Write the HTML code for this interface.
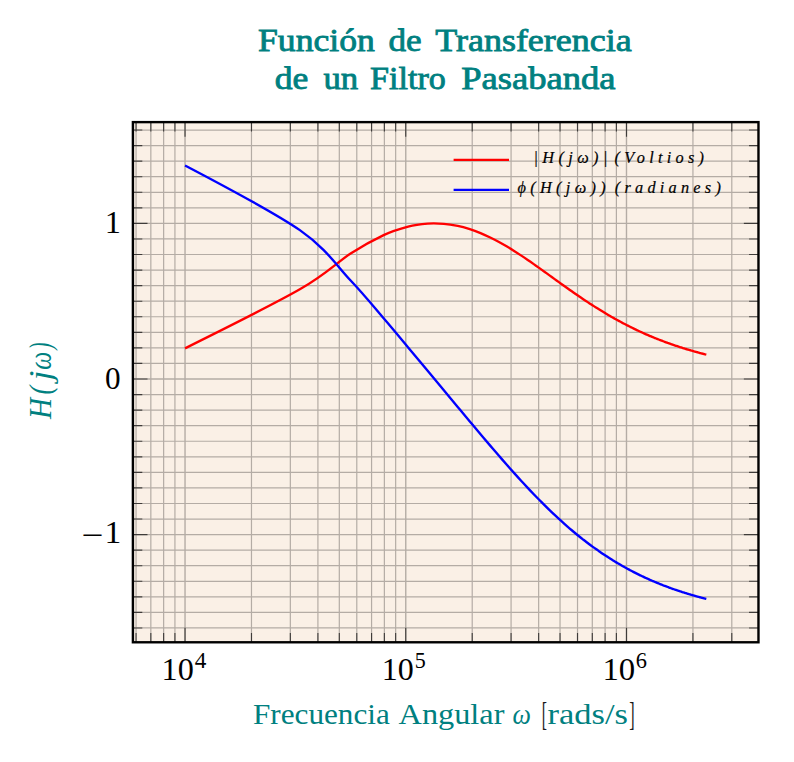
<!DOCTYPE html>
<html><head><meta charset="utf-8"><title>Función de Transferencia de un Filtro Pasabanda</title>
<style>html,body{margin:0;padding:0;background:#fff;}svg{display:block;}
text{font-family:"Liberation Serif",serif;}</style></head>
<body><svg width="794" height="762" viewBox="0 0 794 762">
<rect x="132.90" y="122.12" width="625.57" height="520.16" fill="#FAF0E6"/>
<path d="M136.06 122.12V642.28M150.84 122.12V642.28M163.64 122.12V642.28M174.93 122.12V642.28M251.48 122.12V642.28M290.34 122.12V642.28M317.92 122.12V642.28M339.31 122.12V642.28M356.79 122.12V642.28M371.57 122.12V642.28M384.37 122.12V642.28M395.66 122.12V642.28M472.21 122.12V642.28M511.07 122.12V642.28M538.65 122.12V642.28M560.04 122.12V642.28M577.52 122.12V642.28M592.30 122.12V642.28M605.10 122.12V642.28M616.39 122.12V642.28M692.94 122.12V642.28M731.80 122.12V642.28M132.90 627.96H758.46M132.90 612.40H758.46M132.90 596.84H758.46M132.90 581.28H758.46M132.90 565.72H758.46M132.90 550.16H758.46M132.90 519.04H758.46M132.90 503.48H758.46M132.90 487.92H758.46M132.90 472.36H758.46M132.90 456.80H758.46M132.90 441.24H758.46M132.90 425.68H758.46M132.90 410.12H758.46M132.90 394.56H758.46M132.90 363.44H758.46M132.90 347.88H758.46M132.90 332.32H758.46M132.90 316.76H758.46M132.90 301.20H758.46M132.90 285.64H758.46M132.90 270.08H758.46M132.90 254.52H758.46M132.90 238.96H758.46M132.90 207.84H758.46M132.90 192.28H758.46M132.90 176.72H758.46M132.90 161.16H758.46M132.90 145.60H758.46M132.90 130.04H758.46" stroke="#b4aca5" stroke-width="1.2" fill="none"/>
<path d="M185.03 122.12V642.28M405.76 122.12V642.28M626.49 122.12V642.28M132.90 534.60H758.46M132.90 379.00H758.46M132.90 223.40H758.46" stroke="#b4aca5" stroke-width="1.4" fill="none"/>
<path d="M136.06 642.28v-9.4M136.06 122.12v9.4M150.84 642.28v-9.4M150.84 122.12v9.4M163.64 642.28v-9.4M163.64 122.12v9.4M174.93 642.28v-9.4M174.93 122.12v9.4M185.03 642.28v-14.6M185.03 122.12v14.6M251.48 642.28v-9.4M251.48 122.12v9.4M290.34 642.28v-9.4M290.34 122.12v9.4M317.92 642.28v-9.4M317.92 122.12v9.4M339.31 642.28v-9.4M339.31 122.12v9.4M356.79 642.28v-9.4M356.79 122.12v9.4M371.57 642.28v-9.4M371.57 122.12v9.4M384.37 642.28v-9.4M384.37 122.12v9.4M395.66 642.28v-9.4M395.66 122.12v9.4M405.76 642.28v-14.6M405.76 122.12v14.6M472.21 642.28v-9.4M472.21 122.12v9.4M511.07 642.28v-9.4M511.07 122.12v9.4M538.65 642.28v-9.4M538.65 122.12v9.4M560.04 642.28v-9.4M560.04 122.12v9.4M577.52 642.28v-9.4M577.52 122.12v9.4M592.30 642.28v-9.4M592.30 122.12v9.4M605.10 642.28v-9.4M605.10 122.12v9.4M616.39 642.28v-9.4M616.39 122.12v9.4M626.49 642.28v-14.6M626.49 122.12v14.6M692.94 642.28v-9.4M692.94 122.12v9.4M731.80 642.28v-9.4M731.80 122.12v9.4M132.90 627.96h9.4M758.46 627.96h-9.4M132.90 612.40h9.4M758.46 612.40h-9.4M132.90 596.84h9.4M758.46 596.84h-9.4M132.90 581.28h9.4M758.46 581.28h-9.4M132.90 565.72h9.4M758.46 565.72h-9.4M132.90 550.16h9.4M758.46 550.16h-9.4M132.90 534.60h14.6M758.46 534.60h-14.6M132.90 519.04h9.4M758.46 519.04h-9.4M132.90 503.48h9.4M758.46 503.48h-9.4M132.90 487.92h9.4M758.46 487.92h-9.4M132.90 472.36h9.4M758.46 472.36h-9.4M132.90 456.80h9.4M758.46 456.80h-9.4M132.90 441.24h9.4M758.46 441.24h-9.4M132.90 425.68h9.4M758.46 425.68h-9.4M132.90 410.12h9.4M758.46 410.12h-9.4M132.90 394.56h9.4M758.46 394.56h-9.4M132.90 379.00h14.6M758.46 379.00h-14.6M132.90 363.44h9.4M758.46 363.44h-9.4M132.90 347.88h9.4M758.46 347.88h-9.4M132.90 332.32h9.4M758.46 332.32h-9.4M132.90 316.76h9.4M758.46 316.76h-9.4M132.90 301.20h9.4M758.46 301.20h-9.4M132.90 285.64h9.4M758.46 285.64h-9.4M132.90 270.08h9.4M758.46 270.08h-9.4M132.90 254.52h9.4M758.46 254.52h-9.4M132.90 238.96h9.4M758.46 238.96h-9.4M132.90 223.40h14.6M758.46 223.40h-14.6M132.90 207.84h9.4M758.46 207.84h-9.4M132.90 192.28h9.4M758.46 192.28h-9.4M132.90 176.72h9.4M758.46 176.72h-9.4M132.90 161.16h9.4M758.46 161.16h-9.4M132.90 145.60h9.4M758.46 145.60h-9.4M132.90 130.04h9.4M758.46 130.04h-9.4" stroke="#000" stroke-width="1.15" fill="none" opacity="0.65"/>
<path d="M185.03 348.32C185.03 348.32 273.37 304.49 299.86 289.33C326.36 274.16 337.22 262.24 350.63 253.56C364.03 244.89 374.44 239.42 383.64 235.10C392.84 230.79 401.11 228.43 408.15 226.59C415.19 224.75 421.94 224.06 427.65 223.61C433.37 223.17 439.04 223.45 443.85 223.81C448.66 224.18 453.55 225.06 457.70 225.91C461.86 226.77 466.15 228.01 469.80 229.16C473.46 230.32 477.28 231.78 480.55 233.11C483.81 234.43 487.26 236.03 490.21 237.45C493.16 238.87 496.29 240.52 498.98 241.98C501.67 243.44 504.55 245.11 507.02 246.58C509.49 248.04 512.15 249.69 514.44 251.14C516.72 252.59 519.19 254.20 521.32 255.61C523.45 257.02 525.75 258.59 527.74 259.95C529.73 261.31 531.89 262.82 533.76 264.13C535.63 265.44 537.66 266.89 539.42 268.14C541.19 269.39 543.11 270.77 544.77 271.97C546.44 273.17 548.26 274.48 549.84 275.62C551.42 276.76 553.14 278.01 554.65 279.09C556.15 280.17 557.79 281.36 559.23 282.39C560.66 283.42 562.23 284.54 563.60 285.52C564.97 286.49 566.47 287.56 567.78 288.49C569.09 289.41 570.53 290.43 571.79 291.31C573.04 292.18 574.42 293.15 575.63 293.98C576.84 294.81 578.17 295.73 579.33 296.52C580.49 297.31 581.77 298.18 582.89 298.93C584.01 299.68 585.24 300.50 586.32 301.22C587.40 301.93 588.59 302.72 589.63 303.39C590.68 304.07 591.83 304.82 592.84 305.47C593.84 306.11 594.96 306.82 595.94 307.44C596.91 308.05 597.99 308.73 598.94 309.31C599.88 309.90 600.93 310.54 601.85 311.10C602.77 311.66 603.78 312.28 604.67 312.81C605.57 313.34 606.55 313.93 607.42 314.44C608.28 314.95 609.24 315.51 610.09 316.00C610.93 316.48 611.86 317.02 612.68 317.48C613.50 317.95 614.41 318.46 615.21 318.91C616.01 319.35 616.89 319.84 617.67 320.27C618.45 320.70 619.31 321.17 620.07 321.58C620.83 321.99 621.67 322.44 622.42 322.83C623.16 323.22 623.98 323.66 624.70 324.03C625.42 324.41 626.23 324.82 626.93 325.19C627.64 325.55 628.43 325.95 629.12 326.29C629.81 326.64 630.57 327.03 631.25 327.36C631.93 327.70 632.68 328.06 633.34 328.39C634.00 328.71 634.73 329.06 635.38 329.37C636.03 329.68 636.75 330.03 637.38 330.32C638.01 330.62 638.72 330.95 639.34 331.24C639.96 331.53 640.65 331.85 641.26 332.12C641.87 332.40 642.54 332.71 643.14 332.98C643.74 333.25 644.40 333.54 644.99 333.80C645.57 334.06 646.22 334.35 646.80 334.60C647.37 334.85 648.01 335.12 648.58 335.36C649.14 335.61 649.77 335.87 650.32 336.11C650.87 336.34 651.49 336.60 652.03 336.83C652.58 337.05 653.18 337.30 653.72 337.52C654.25 337.74 654.85 337.98 655.37 338.20C655.90 338.41 656.48 338.64 657.00 338.85C657.52 339.06 658.09 339.28 658.60 339.48C659.11 339.68 659.67 339.90 660.17 340.10C660.67 340.29 661.23 340.50 661.72 340.69C662.21 340.88 662.76 341.09 663.24 341.27C663.73 341.45 664.27 341.65 664.74 341.83C665.22 342.01 665.75 342.20 666.22 342.38C666.69 342.55 667.21 342.74 667.67 342.91C668.14 343.07 668.65 343.26 669.11 343.42C669.56 343.58 670.07 343.76 670.52 343.92C670.97 344.08 671.47 344.25 671.91 344.41C672.35 344.56 672.84 344.73 673.28 344.88C673.71 345.03 674.20 345.20 674.63 345.34C675.06 345.49 675.54 345.65 675.96 345.79C676.39 345.93 676.86 346.09 677.28 346.23C677.69 346.37 678.16 346.52 678.57 346.66C678.99 346.79 679.45 346.94 679.85 347.07C680.26 347.20 680.71 347.35 681.12 347.48C681.52 347.60 681.97 347.75 682.36 347.87C682.76 348.00 683.20 348.14 683.59 348.26C683.98 348.38 684.42 348.51 684.81 348.63C685.19 348.75 685.62 348.88 686.01 349.00C686.39 349.12 686.81 349.25 687.19 349.36C687.57 349.47 687.99 349.60 688.36 349.71C688.73 349.82 689.15 349.94 689.52 350.05C689.88 350.16 690.29 350.28 690.66 350.39C691.02 350.49 691.43 350.61 691.79 350.71C692.15 350.82 692.55 350.93 692.90 351.03C693.26 351.13 693.65 351.25 694.01 351.35C694.36 351.44 694.75 351.55 695.10 351.65C695.44 351.75 695.83 351.86 696.17 351.95C696.52 352.04 696.90 352.15 697.24 352.24C697.58 352.34 697.96 352.44 698.29 352.53C698.63 352.62 699.00 352.72 699.34 352.81C699.67 352.90 700.04 353.00 700.37 353.08C700.70 353.17 701.06 353.27 701.39 353.35C701.71 353.44 702.08 353.53 702.40 353.62C702.72 353.70 703.08 353.79 703.40 353.87C703.72 353.96 704.07 354.05 704.39 354.13C704.70 354.21 705.05 354.30 705.37 354.38C705.68 354.45 706.33 354.62 706.33 354.62" stroke="#ff0000" stroke-width="2.36" fill="none" stroke-linejoin="round"/>
<path d="M185.03 165.46C185.03 165.46 273.37 211.75 299.86 230.15C326.36 248.56 337.22 266.38 350.63 280.48C364.03 294.58 374.44 307.55 383.64 318.27C392.84 328.98 401.11 339.01 408.15 347.43C415.19 355.84 421.94 363.99 427.65 370.86C433.37 377.73 439.04 384.57 443.85 390.36C448.66 396.14 453.55 402.02 457.70 407.00C461.86 411.98 466.15 417.13 469.80 421.49C473.46 425.85 477.28 430.39 480.55 434.26C483.81 438.12 487.26 442.17 490.21 445.62C493.16 449.07 496.29 452.72 498.98 455.82C501.67 458.92 504.55 462.21 507.02 465.02C509.49 467.82 512.15 470.80 514.44 473.35C516.72 475.90 519.19 478.61 521.32 480.93C523.45 483.25 525.75 485.73 527.74 487.86C529.73 489.98 531.89 492.25 533.76 494.20C535.63 496.15 537.66 498.23 539.42 500.02C541.19 501.81 543.11 503.74 544.77 505.39C546.44 507.04 548.26 508.82 549.84 510.34C551.42 511.87 553.14 513.51 554.65 514.93C556.15 516.34 557.79 517.87 559.23 519.18C560.66 520.49 562.23 521.91 563.60 523.13C564.97 524.35 566.47 525.68 567.78 526.82C569.09 527.96 570.53 529.19 571.79 530.25C573.04 531.32 574.42 532.47 575.63 533.47C576.84 534.47 578.17 535.55 579.33 536.48C580.49 537.42 581.77 538.43 582.89 539.31C584.01 540.18 585.24 541.14 586.32 541.96C587.40 542.79 588.59 543.69 589.63 544.47C590.68 545.24 591.83 546.09 592.84 546.83C593.84 547.56 594.96 548.36 595.94 549.05C596.91 549.75 597.99 550.50 598.94 551.16C599.88 551.82 600.93 552.53 601.85 553.16C602.77 553.78 603.78 554.46 604.67 555.05C605.57 555.64 606.55 556.28 607.42 556.84C608.28 557.40 609.24 558.02 610.09 558.55C610.93 559.08 611.86 559.67 612.68 560.17C613.50 560.68 614.41 561.24 615.21 561.72C616.01 562.20 616.89 562.73 617.67 563.20C618.45 563.66 619.31 564.16 620.07 564.60C620.83 565.04 621.67 565.53 622.42 565.95C623.16 566.37 623.98 566.83 624.70 567.24C625.42 567.64 626.23 568.08 626.93 568.47C627.64 568.85 628.43 569.28 629.12 569.65C629.81 570.02 630.57 570.42 631.25 570.78C631.93 571.13 632.68 571.52 633.34 571.86C634.00 572.20 634.73 572.58 635.38 572.91C636.03 573.23 636.75 573.59 637.38 573.91C638.01 574.22 638.72 574.57 639.34 574.87C639.96 575.18 640.65 575.51 641.26 575.80C641.87 576.09 642.54 576.41 643.14 576.69C643.74 576.97 644.40 577.28 644.99 577.56C645.57 577.83 646.22 578.12 646.80 578.39C647.37 578.65 648.01 578.93 648.58 579.19C649.14 579.44 649.77 579.72 650.32 579.96C650.87 580.20 651.49 580.47 652.03 580.71C652.58 580.94 653.18 581.20 653.72 581.43C654.25 581.66 654.85 581.91 655.37 582.13C655.90 582.35 656.48 582.59 657.00 582.81C657.52 583.02 658.09 583.25 658.60 583.46C659.11 583.67 659.67 583.90 660.17 584.10C660.67 584.29 661.23 584.52 661.72 584.71C662.21 584.90 662.76 585.12 663.24 585.31C663.73 585.49 664.27 585.70 664.74 585.88C665.22 586.07 665.75 586.27 666.22 586.44C666.69 586.62 667.21 586.82 667.67 586.99C668.14 587.16 668.65 587.35 669.11 587.52C669.56 587.69 670.07 587.87 670.52 588.03C670.97 588.19 671.47 588.37 671.91 588.53C672.35 588.69 672.84 588.86 673.28 589.02C673.71 589.17 674.20 589.34 674.63 589.49C675.06 589.64 675.54 589.81 675.96 589.95C676.39 590.10 676.86 590.26 677.28 590.40C677.69 590.54 678.16 590.70 678.57 590.83C678.99 590.97 679.45 591.12 679.85 591.26C680.26 591.39 680.71 591.54 681.12 591.67C681.52 591.80 681.97 591.95 682.36 592.08C682.76 592.20 683.20 592.35 683.59 592.47C683.98 592.59 684.42 592.73 684.81 592.85C685.19 592.97 685.62 593.11 686.01 593.23C686.39 593.35 686.81 593.48 687.19 593.59C687.57 593.71 687.99 593.84 688.36 593.95C688.73 594.06 689.15 594.19 689.52 594.30C689.88 594.41 690.29 594.53 690.66 594.64C691.02 594.75 691.43 594.87 691.79 594.97C692.15 595.08 692.55 595.19 692.90 595.30C693.26 595.40 693.65 595.51 694.01 595.61C694.36 595.71 694.75 595.83 695.10 595.92C695.44 596.02 695.83 596.13 696.17 596.23C696.52 596.32 696.90 596.43 697.24 596.52C697.58 596.62 697.96 596.72 698.29 596.82C698.63 596.91 699.00 597.01 699.34 597.10C699.67 597.19 700.04 597.29 700.37 597.38C700.70 597.47 701.06 597.57 701.39 597.65C701.71 597.74 702.08 597.83 702.40 597.92C702.72 598.00 703.08 598.10 703.40 598.18C703.72 598.26 704.07 598.36 704.39 598.44C704.70 598.52 705.05 598.61 705.37 598.69C705.68 598.77 706.33 598.93 706.33 598.93" stroke="#0000ff" stroke-width="2.36" fill="none" stroke-linejoin="round"/>
<path d="M453.6 159.85H509" stroke="#ff0000" stroke-width="2.36"/>
<path d="M453.6 189.9H509" stroke="#0000ff" stroke-width="2.36"/>
<rect x="132.90" y="122.12" width="625.57" height="520.16" fill="none" stroke="#000" stroke-width="2.4"/>
<text x="258.0" y="51.4" font-size="31.0" fill="#008080" textLength="116.8" lengthAdjust="spacingAndGlyphs" stroke="#008080" stroke-width="0.8">Función</text>
<text x="388.4" y="51.4" font-size="31.0" fill="#008080" textLength="33.2" lengthAdjust="spacingAndGlyphs" stroke="#008080" stroke-width="0.8">de</text>
<text x="435.2" y="51.4" font-size="31.0" fill="#008080" textLength="196.6" lengthAdjust="spacingAndGlyphs" stroke="#008080" stroke-width="0.8">Transferencia</text>
<text x="274.8" y="89.3" font-size="31.0" fill="#008080" textLength="33.6" lengthAdjust="spacingAndGlyphs" stroke="#008080" stroke-width="0.8">de</text>
<text x="323.4" y="89.3" font-size="31.0" fill="#008080" textLength="34.8" lengthAdjust="spacingAndGlyphs" stroke="#008080" stroke-width="0.8">un</text>
<text x="370.0" y="89.3" font-size="31.0" fill="#008080" textLength="75.8" lengthAdjust="spacingAndGlyphs" stroke="#008080" stroke-width="0.8">Filtro</text>
<text x="461.2" y="89.3" font-size="31.0" fill="#008080" textLength="154.4" lengthAdjust="spacingAndGlyphs" stroke="#008080" stroke-width="0.8">Pasabanda</text>
<text x="253.0" y="723.5" font-size="29.5" fill="#008080" textLength="136.8" lengthAdjust="spacingAndGlyphs">Frecuencia</text>
<text x="398.6" y="723.5" font-size="29.5" fill="#008080" textLength="105.8" lengthAdjust="spacingAndGlyphs">Angular</text>
<text x="512.4" y="723.5" font-size="29.5" font-style="italic" fill="#008080" textLength="18.4" lengthAdjust="spacingAndGlyphs">ω</text>
<text x="541.8" y="725.3" font-size="34.4" fill="#1a1a1a" textLength="5.2" lengthAdjust="spacingAndGlyphs">[</text>
<text x="547.4" y="723.5" font-size="29.5" fill="#008080" textLength="80.6" lengthAdjust="spacingAndGlyphs">rads/s</text>
<text x="629.2" y="725.3" font-size="34.4" fill="#1a1a1a" textLength="5.4" lengthAdjust="spacingAndGlyphs">]</text>
<text x="161.6" y="680.0" font-size="32.5" textLength="32.2" lengthAdjust="spacingAndGlyphs">10</text>
<text x="194.8" y="668.3" font-size="23.0" textLength="11.6" lengthAdjust="spacingAndGlyphs">4</text>
<text x="381.8" y="680.0" font-size="32.5" textLength="32.0" lengthAdjust="spacingAndGlyphs">10</text>
<text x="414.8" y="668.3" font-size="23.0" textLength="11.0" lengthAdjust="spacingAndGlyphs">5</text>
<text x="602.4" y="680.0" font-size="32.5" textLength="32.8" lengthAdjust="spacingAndGlyphs">10</text>
<text x="635.8" y="668.3" font-size="23.0" textLength="11.2" lengthAdjust="spacingAndGlyphs">6</text>
<text x="104.8" y="232.8" font-size="32.5" textLength="16.2" lengthAdjust="spacingAndGlyphs">1</text>
<text x="105.0" y="389.3" font-size="32.5" textLength="15.6" lengthAdjust="spacingAndGlyphs">0</text>
<text x="81.2" y="545.9" font-size="32.5" textLength="22.0" lengthAdjust="spacingAndGlyphs">−</text>
<text x="104.6" y="542.9" font-size="32.5" textLength="16.8" lengthAdjust="spacingAndGlyphs">1</text>
<text x="533.4" y="162.6" font-size="16.3" font-style="italic" textLength="74.0" lengthAdjust="spacing" stroke="#000" stroke-width="0.2">|H(jω)|</text>
<text x="614.6" y="162.6" font-size="16.3" font-style="italic" textLength="89.4" lengthAdjust="spacing" stroke="#000" stroke-width="0.2">(Voltios)</text>
<text x="517.6" y="192.6" font-size="16.3" font-style="italic" textLength="88.0" lengthAdjust="spacing" stroke="#000" stroke-width="0.2">ϕ(H(jω))</text>
<text x="614.8" y="192.6" font-size="16.3" font-style="italic" textLength="106.0" lengthAdjust="spacing" stroke="#000" stroke-width="0.2">(radianes)</text>
<text transform="translate(51.3 419.0) rotate(-90)" font-size="31.5" font-style="italic" fill="#008080" textLength="21.0" lengthAdjust="spacingAndGlyphs">H</text>
<text transform="translate(51.3 394.4) rotate(-90)" font-size="31.5" font-style="italic" fill="#008080" textLength="8.6" lengthAdjust="spacingAndGlyphs">(</text>
<text transform="translate(51.3 380.2) rotate(-90)" font-size="31.5" font-style="italic" fill="#008080" textLength="9.6" lengthAdjust="spacingAndGlyphs">j</text>
<text transform="translate(51.3 369.8) rotate(-90)" font-size="31.5" font-style="italic" fill="#008080" textLength="18.0" lengthAdjust="spacingAndGlyphs">ω</text>
<text transform="translate(51.3 349.6) rotate(-90)" font-size="31.5" font-style="italic" fill="#008080" textLength="7.0" lengthAdjust="spacingAndGlyphs">)</text>
</svg></body></html>
